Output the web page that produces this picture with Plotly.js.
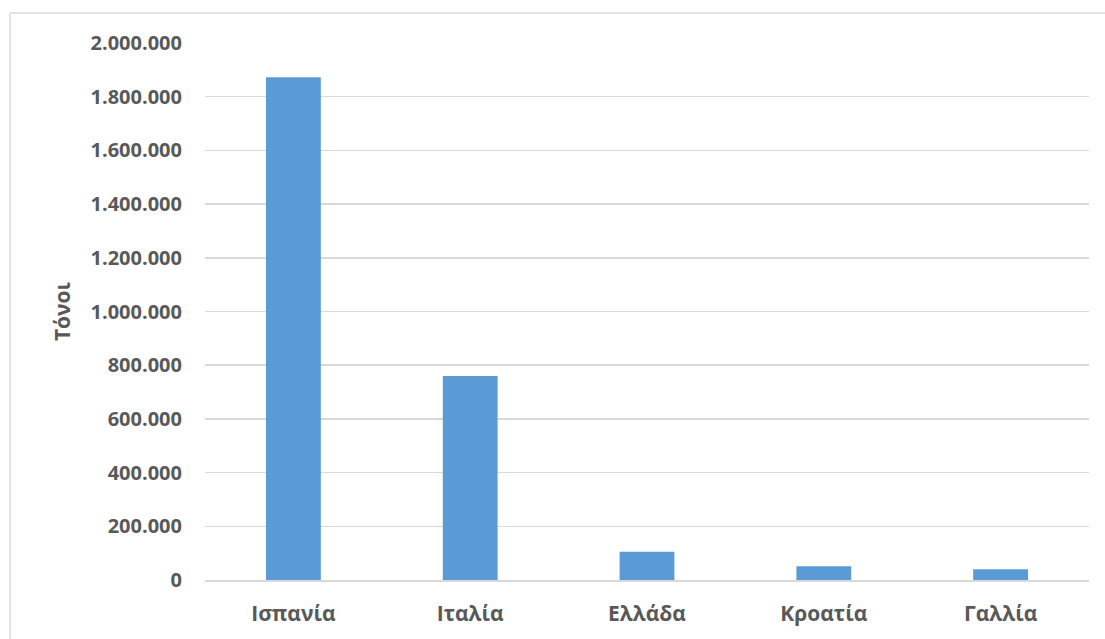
<!DOCTYPE html>
<html>
<head>
<meta charset="utf-8">
<script src="https://cdn.plot.ly/plotly-3.0.1.min.js"></script>
<style>
  html, body { margin: 0; padding: 0; background: #ffffff; }
  #chart { width: 1105px; height: 639px; }
</style>
</head>
<body>
<div id="chart"></div>
<script>
// Production by country (tonnes)
const countries = ['Ισπανία', 'Ιταλία', 'Ελλάδα', 'Κροατία', 'Γαλλία'];
const tonnes = [1872000, 760000, 105000, 51000, 40000];
const yTicks = [0, 200000, 400000, 600000, 800000, 1000000, 1200000, 1400000, 1600000, 1800000, 2000000];

const textColor = '#595959';
const gridColor = '#d9d9d9';
const fontFamily = '"Open Sans", "Noto Sans", sans-serif';

const trace = {
  type: 'bar',
  x: countries,
  y: tonnes,
  marker: { color: '#5b9bd5', line: { width: 0 } },
  hoverinfo: 'x+y'
};

const W = 1105, H = 639;
const m = { l: 205, r: 16, t: 43, b: 59 };
const pw = W - m.l - m.r, ph = H - m.t - m.b;
// outer frame edges in paper units
const fx = (10 - m.l) / pw;
const fy = 1 + (m.t - 13) / ph;

const layout = {
  width: W,
  height: H,
  margin: m,
  paper_bgcolor: '#ffffff',
  plot_bgcolor: '#ffffff',
  separators: ',.',
  bargap: 0.69,
  showlegend: false,
  font: { family: fontFamily, size: 20, color: textColor, weight: 'bold' },
  xaxis: {
    type: 'category',
    showgrid: false,
    showline: true,
    linecolor: gridColor,
    linewidth: 1.5,
    ticks: '',
    ticklabelstandoff: 14,
    tickfont: { family: fontFamily, size: 21, color: textColor, weight: 'bold' },
    fixedrange: true
  },
  yaxis: {
    range: [0, 2000000],
    tickvals: yTicks,
    tickformat: ',d',
    showgrid: true,
    gridcolor: gridColor,
    gridwidth: 1.5,
    zeroline: false,
    showline: false,
    ticks: '',
    ticklabelstandoff: 22,
    automargin: true,
    tickfont: { family: fontFamily, size: 20, color: textColor, weight: 'bold' },
    title: {
      text: 'Τόνοι',
      standoff: 14,
      font: { family: fontFamily, size: 21, color: textColor, weight: 'bold' }
    },
    fixedrange: true
  },
  shapes: [
    { type: 'line', xref: 'paper', yref: 'paper', x0: fx, x1: fx, y0: fy, y1: -0.2,
      line: { color: gridColor, width: 1.5 } },
    { type: 'line', xref: 'paper', yref: 'paper', x0: fx, x1: 1.2, y0: fy, y1: fy,
      line: { color: gridColor, width: 1.5 } }
  ]
};

Plotly.newPlot('chart', [trace], layout, { displayModeBar: false, staticPlot: true });
</script>
</body>
</html>
